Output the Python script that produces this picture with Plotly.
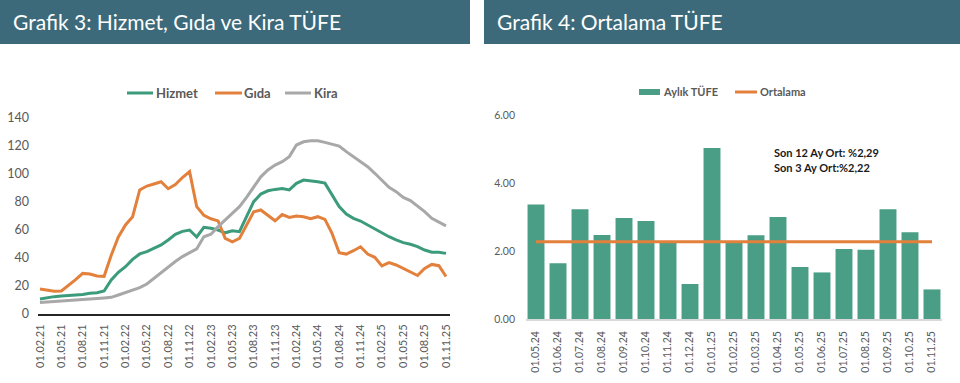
import plotly.graph_objects as go

# ---------------- data: Grafik 3 ----------------
months = ["01.02.21","01.03.21","01.04.21","01.05.21","01.06.21","01.07.21","01.08.21","01.09.21","01.10.21","01.11.21","01.12.21",
          "01.01.22","01.02.22","01.03.22","01.04.22","01.05.22","01.06.22","01.07.22","01.08.22","01.09.22","01.10.22","01.11.22","01.12.22",
          "01.01.23","01.02.23","01.03.23","01.04.23","01.05.23","01.06.23","01.07.23","01.08.23","01.09.23","01.10.23","01.11.23","01.12.23",
          "01.01.24","01.02.24","01.03.24","01.04.24","01.05.24","01.06.24","01.07.24","01.08.24","01.09.24","01.10.24","01.11.24","01.12.24",
          "01.01.25","01.02.25","01.03.25","01.04.25","01.05.25","01.06.25","01.07.25","01.08.25","01.09.25","01.10.25","01.11.25"]
month_ticks = ["01.02.21","01.05.21","01.08.21","01.11.21","01.02.22","01.05.22","01.08.22","01.11.22","01.02.23","01.05.23",
               "01.08.23","01.11.23","01.02.24","01.05.24","01.08.24","01.11.24","01.02.25","01.05.25","01.08.25","01.11.25"]

hizmet = [10.7, 11.7, 12.4, 12.9, 13.1, 13.6, 14.0, 14.8, 15.2, 16.4, 24.3,
          29.8, 33.8, 39.0, 42.9, 44.5, 46.9, 49.3, 52.9, 56.9, 59.0, 60.0, 55.0,
          61.9, 61.2, 60.0, 58.0, 59.5, 58.8, 69.5, 80.2, 85.7, 88.0, 89.0, 89.7,
          88.6, 93.3, 95.7, 95.2, 94.5, 93.5, 85.0, 76.7, 71.4, 68.3, 66.4, 63.6,
          60.5, 57.6, 55.2, 52.9, 51.0, 49.8, 48.1, 45.7, 44.1, 44.1, 43.3]
gida = [17.9, 16.8, 16.2, 16.4, 20.2, 24.5, 29.0, 28.6, 27.1, 26.9, 42.0,
        55.0, 63.6, 69.5, 88.6, 91.4, 92.9, 94.5, 89.5, 92.5, 97.5, 101.7, 76.7,
        70.5, 68.0, 66.5, 54.0, 51.6, 54.0, 63.6, 73.0, 74.3, 70.7, 66.6, 71.0,
        69.0, 70.0, 69.5, 68.0, 69.5, 67.6, 57.6, 43.8, 42.8, 45.2, 48.0, 42.8,
        40.5, 34.3, 36.7, 35.0, 32.6, 29.8, 27.5, 32.6, 35.4, 34.5, 26.8]
kira = [8.3, 8.6, 8.8, 9.0, 9.3, 9.8, 10.0, 10.5, 11.0, 11.4, 11.9,
        13.6, 15.2, 16.9, 18.8, 21.4, 25.5, 29.5, 33.8, 37.5, 41.0, 43.5, 46.5,
        55.2, 57.0, 62.4, 67.0, 71.9, 76.7, 83.3, 91.0, 98.0, 102.9, 106.4, 108.8,
        112.4, 120.7, 123.0, 123.8, 123.8, 122.6, 121.4, 120.0, 116.0, 112.4, 108.8, 105.2,
        100.5, 95.7, 90.5, 87.4, 83.3, 81.0, 77.1, 73.1, 68.3, 65.5, 62.9]
y3_ticks = [0, 20, 40, 60, 80, 100, 120, 140]

# ---------------- data: Grafik 4 ----------------
bar_months = ["01.05.24","01.06.24","01.07.24","01.08.24","01.09.24","01.10.24","01.11.24","01.12.24","01.01.25","01.02.25",
              "01.03.25","01.04.25","01.05.25","01.06.25","01.07.25","01.08.25","01.09.25","01.10.25","01.11.25"]
aylik_tufe = [3.37, 1.64, 3.23, 2.47, 2.97, 2.88, 2.24, 1.03, 5.03, 2.27, 2.46, 3.00, 1.53, 1.37, 2.06, 2.04, 3.23, 2.55, 0.87]
ortalama = [2.27, 2.27, 2.27, 2.27, 2.27, 2.27, 2.27, 2.27, 2.27, 2.27, 2.27, 2.27, 2.27, 2.27, 2.27, 2.27, 2.27, 2.27, 2.27]
y4_ticks = [0, 2, 4, 6]
y4_labels = ["0.00", "2.00", "4.00", "6.00"]

# ---------------- style ----------------
W, H = 960, 383
FONT = "Lato, 'Open Sans', sans-serif"
GREEN = "#3B9B7B"
BAR_GREEN = "#4A9E86"
ORANGE = "#E2803C"
GRAY = "#A8A8A8"
HEADER = "#3C6A7B"
TXT = "#595959"

def px(x):
    return x / W

def py(y):
    return 1 - y / H

fig = go.Figure()

fig.add_trace(go.Scatter(x=months, y=hizmet, mode="lines", name="Hizmet",
                         line=dict(color=GREEN, width=3), xaxis="x", yaxis="y", showlegend=False))
fig.add_trace(go.Scatter(x=months, y=gida, mode="lines", name="Gıda",
                         line=dict(color=ORANGE, width=3), xaxis="x", yaxis="y", showlegend=False))
fig.add_trace(go.Scatter(x=months, y=kira, mode="lines", name="Kira",
                         line=dict(color=GRAY, width=3), xaxis="x", yaxis="y", showlegend=False))

fig.add_trace(go.Bar(x=bar_months, y=aylik_tufe, name="Aylık TÜFE",
                     marker=dict(color=BAR_GREEN, line=dict(width=0)), xaxis="x2", yaxis="y2", showlegend=False))
fig.add_trace(go.Scatter(x=bar_months, y=ortalama, mode="lines", name="Ortalama",
                         line=dict(color=ORANGE, width=3), xaxis="x2", yaxis="y2", showlegend=False))

n3 = len(months)
n4 = len(bar_months)

fig.update_layout(
    template="none",
    width=W, height=H,
    autosize=False,
    margin=dict(l=0, r=0, t=0, b=0, pad=0, autoexpand=False),
    paper_bgcolor="white", plot_bgcolor="white",
    font=dict(family=FONT, color=TXT),
    bargap=0.23,
    hovermode=False,
    xaxis=dict(domain=[px(38), px(450)], type="category", range=[-0.28, n3 - 1 + 0.56],
               tickmode="array", tickvals=month_ticks, ticktext=month_ticks, tickangle=-90,
               showline=True, linecolor="#262626", linewidth=2, showgrid=False, zeroline=False,
               ticks="", tickfont=dict(size=11, color=TXT, family=FONT), anchor="y",
               ticklabelstandoff=4, automargin=False),
    yaxis=dict(domain=[py(314), py(118)], range=[0, 140], tickvals=y3_ticks,
               showgrid=False, zeroline=False, showline=False, ticks="",
               tickfont=dict(size=12.5, color=TXT, family=FONT), anchor="x",
               ticklabelstandoff=8, automargin=False),
    xaxis2=dict(domain=[px(526), px(942)], type="category", range=[-0.455, n4 - 1 + 0.455],
                tickangle=-90, showline=True, linecolor="#D9D9D9", linewidth=2, showgrid=False,
                zeroline=False, ticks="", tickfont=dict(size=10.5, color=TXT, family=FONT), anchor="y2",
                ticklabelstandoff=6, automargin=False),
    yaxis2=dict(domain=[py(319), py(115)], range=[0, 6], tickvals=y4_ticks, ticktext=y4_labels,
                showgrid=False, zeroline=False, showline=False, ticks="",
                tickfont=dict(size=10.5, color=TXT, family=FONT), anchor="x2",
                ticklabelstandoff=10, automargin=False),
)

shapes = [
    dict(type="rect", xref="paper", yref="paper", x0=px(0), x1=px(470), y0=py(44), y1=py(0),
         fillcolor=HEADER, line=dict(width=0), layer="below"),
    dict(type="rect", xref="paper", yref="paper", x0=px(484), x1=px(960), y0=py(44), y1=py(0),
         fillcolor=HEADER, line=dict(width=0), layer="below"),
    # legend swatches, Grafik 3
    dict(type="line", xref="paper", yref="paper", x0=px(127), x1=px(153), y0=py(93), y1=py(93),
         line=dict(color=GREEN, width=3)),
    dict(type="line", xref="paper", yref="paper", x0=px(215), x1=px(242), y0=py(93), y1=py(93),
         line=dict(color=ORANGE, width=3)),
    dict(type="line", xref="paper", yref="paper", x0=px(285), x1=px(311), y0=py(93), y1=py(93),
         line=dict(color=GRAY, width=3)),
    # legend swatches, Grafik 4
    dict(type="rect", xref="paper", yref="paper", x0=px(639), x1=px(660), y0=py(95), y1=py(89),
         fillcolor=BAR_GREEN, line=dict(width=0)),
    dict(type="line", xref="paper", yref="paper", x0=px(735), x1=px(757), y0=py(92), y1=py(92),
         line=dict(color=ORANGE, width=3)),
]

def ann(text, x, y, size, color=TXT, bold=True, xanchor="left"):
    return dict(text=(f"<b>{text}</b>" if bold else text), xref="paper", yref="paper",
                x=px(x), y=py(y), xanchor=xanchor, yanchor="middle", showarrow=False,
                font=dict(family=FONT, size=size, color=color))

annotations = [
    ann("Grafik 3: Hizmet, Gıda ve Kira TÜFE", 11, 22, 21, color="white", bold=False),
    ann("Grafik 4: Ortalama TÜFE", 495, 22, 21, color="white", bold=False),
    ann("Hizmet", 154, 93, 13),
    ann("Gıda", 242, 93, 13),
    ann("Kira", 312, 93, 13),
    ann("Aylık TÜFE", 661, 92, 11),
    ann("Ortalama", 758, 92, 11),
    ann("Son 12 Ay Ort: %2,29", 772, 152, 11, color="#1A1A1A"),
    ann("Son 3 Ay Ort:%2,22", 772, 167, 11, color="#1A1A1A"),
]

fig.update_layout(shapes=shapes, annotations=annotations)

fig.write_html("out.html", config={"displayModeBar": False, "staticPlot": True},
               post_script="document.body.style.margin='0px';document.body.style.overflow='hidden';")
